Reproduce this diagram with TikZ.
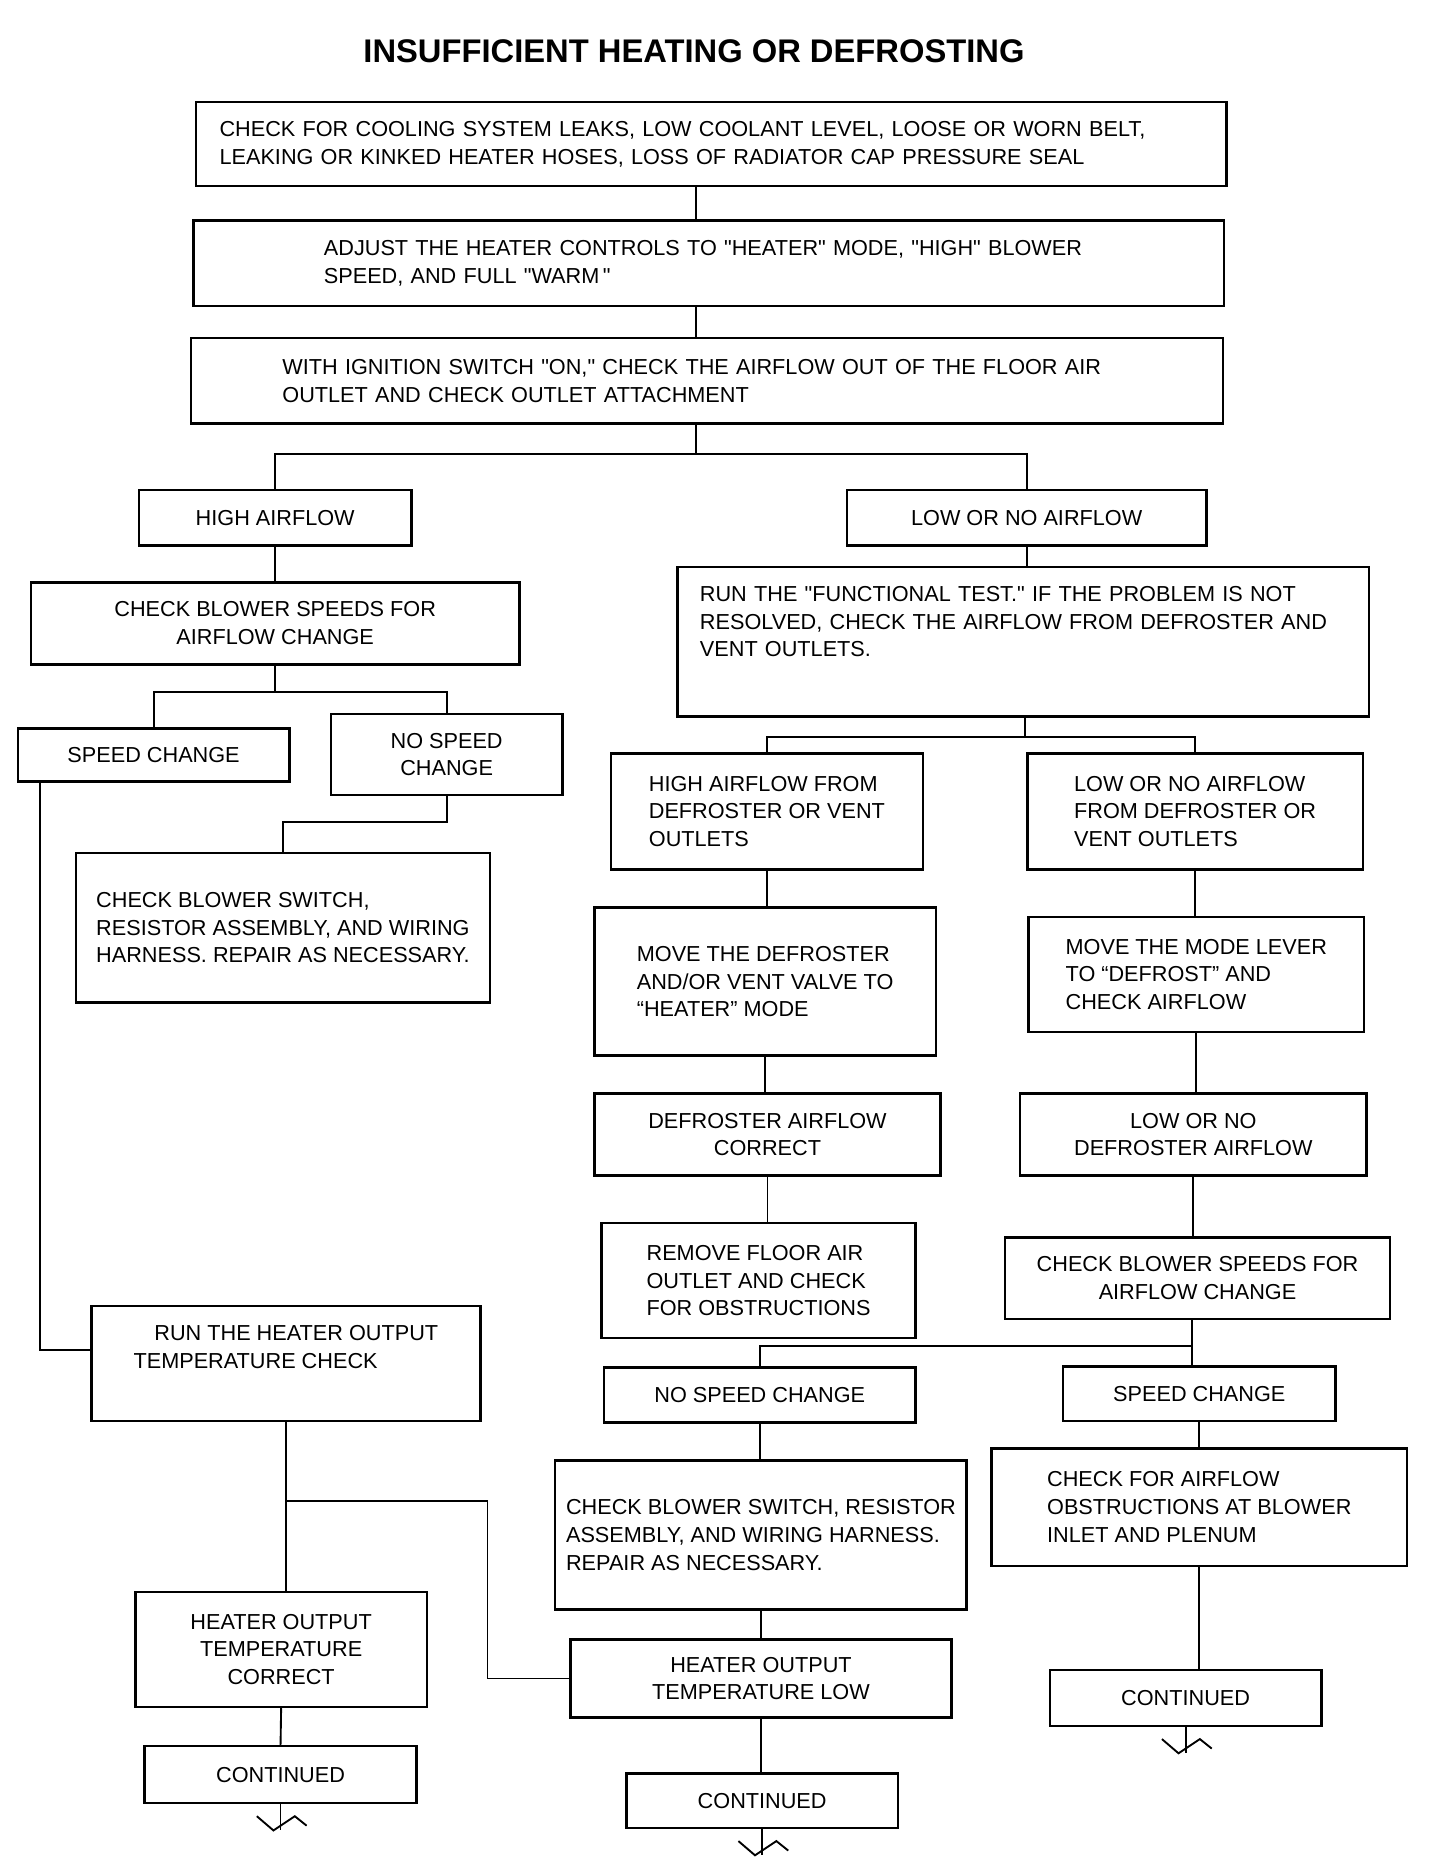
\documentclass[tikz,border=0pt]{standalone}
\usepackage{fontspec}
\setmainfont{Liberation Sans}
\usetikzlibrary{positioning, calc}

\tikzset{
  box/.style={draw, line width=1.2pt, inner sep=2pt, font=\fontsize{10.4}{13.3}\selectfont},
  cbox/.style 2 args={box, align=center, minimum width=#1, minimum height=#2},
  lbox/.style 2 args={box, align=left, minimum width=#1, minimum height=#2},
  link/.style={line width=0.9pt},
}

% straight double quote
\newcommand{\qq}{\textquotedbl}
% broken line under a CONTINUED box
\newcommand{\contbreak}[1]{%
  \draw[link] (#1.south) -- ++(0,22);
  \draw[link] ([shift={(-20,10)}]#1.south) -- ++(14,12) -- ++(18,-12) -- ++(10,8);}

\begin{document}
\begin{tikzpicture}[x=0.02cm, y=-0.02cm]
  \useasboundingbox (0,0) rectangle (1227,1568);
  % Titulo
  \node[font=\fontsize{15.7}{18}\selectfont\bfseries] (title) at (585,43) {INSUFFICIENT HEATING OR DEFROSTING};

  % Main column
  \node[box, align=left, text width=16.58cm, inner xsep=0.4cm, minimum height=1.42cm] (chkleaks) at (599.5,121.5)
    {CHECK FOR COOLING SYSTEM LEAKS, LOW COOLANT LEVEL, LOOSE OR WORN BELT,\\
     LEAKING OR KINKED HEATER HOSES, LOSS OF RADIATOR CAP PRESSURE SEAL};
  \node[box, align=left, text width=12.98cm, inner xsep=2.2cm, minimum height=1.44cm] (adjust) at (597.5,222)
    {ADJUST THE HEATER CONTROLS TO \qq HEATER\qq{} MODE, \qq HIGH\qq{} BLOWER\\
     SPEED, AND FULL \qq WARM\,\qq};
  \node[box, align=left, text width=14.32cm, inner xsep=1.54cm, minimum height=1.44cm] (ignition) at (596,321)
    {WITH IGNITION SWITCH \qq ON,\qq{} CHECK THE AIRFLOW OUT OF THE FLOOR AIR\\
     OUTLET AND CHECK OUTLET ATTACHMENT};
  \node[cbox={4.60cm}{0.94cm}] (hiair) at (232,436.5) {HIGH AIRFLOW};
  \node[cbox={6.06cm}{0.94cm}] (lowair) at (865.5,436.5) {LOW OR NO AIRFLOW};

  % High airflow side
  \node[cbox={8.24cm}{1.38cm}] (blowerL) at (232,525.5) {CHECK BLOWER SPEEDS FOR\\ AIRFLOW CHANGE};
  \node[cbox={4.58cm}{0.90cm}] (spdL) at (129.5,636.5) {SPEED CHANGE};
  \node[cbox={3.90cm}{1.36cm}] (nospdL) at (376.5,636) {NO SPEED\\ CHANGE};
  \node[lbox={6.98cm}{2.52cm}] (switchL) at (238.5,782)
    {CHECK BLOWER SWITCH,\\ RESISTOR ASSEMBLY, AND WIRING\\ HARNESS. REPAIR AS NECESSARY.};
  \node[lbox={6.56cm}{1.94cm}] (runheat) at (241,1149.5)
    {\hspace*{10pt}RUN THE HEATER OUTPUT\\ TEMPERATURE CHECK\\[2.6pt]\mbox{}};
  \node[cbox={4.92cm}{1.94cm}] (heatok) at (237,1390.5) {HEATER OUTPUT\\ TEMPERATURE\\ CORRECT};
  \node[cbox={4.58cm}{0.96cm}] (cont1) at (236.5,1496) {CONTINUED};

  % Low airflow side
  \node[box, align=left, text width=10.9cm, inner xsep=0.38cm, minimum height=2.52cm] (functest) at (862.5,541)
    {RUN THE \qq FUNCTIONAL TEST.\qq{} IF THE PROBLEM IS NOT\\
     RESOLVED, CHECK THE AIRFLOW FROM DEFROSTER AND\\
     VENT OUTLETS.\\[6pt]\mbox{}};
  \node[lbox={5.26cm}{1.96cm}] (hidef) at (646.5,684) {HIGH AIRFLOW FROM\\ DEFROSTER OR VENT\\ OUTLETS};
  \node[lbox={5.66cm}{1.96cm}] (lowdef) at (1007.5,684) {LOW OR NO AIRFLOW\\ FROM DEFROSTER OR\\ VENT OUTLETS};
  \node[lbox={5.76cm}{2.50cm}] (movedef) at (645,827.5) {MOVE THE DEFROSTER\\ AND/OR VENT VALVE TO\\ ``HEATER'' MODE};
  \node[lbox={5.66cm}{1.94cm}] (movemode) at (1008.5,821.5) {MOVE THE MODE LEVER\\ TO ``DEFROST'' AND\\ CHECK AIRFLOW};
  \node[cbox={5.84cm}{1.38cm}] (defok) at (647,956.5) {DEFROSTER AIRFLOW\\ CORRECT};
  \node[cbox={5.84cm}{1.38cm}] (lowdefair) at (1006,956.5) {LOW OR NO\\ DEFROSTER AIRFLOW};
  \node[lbox={5.30cm}{1.94cm}] (floor) at (639.5,1079.5) {REMOVE FLOOR AIR\\ OUTLET AND CHECK\\ FOR OBSTRUCTIONS};
  \node[cbox={6.50cm}{1.38cm}] (blowerR) at (1009.5,1077.5) {CHECK BLOWER SPEEDS FOR\\ AIRFLOW CHANGE};
  \node[cbox={5.26cm}{0.92cm}] (nospdR) at (640.5,1176) {NO SPEED CHANGE};
  \node[cbox={4.60cm}{0.92cm}] (spdR) at (1011,1175) {SPEED CHANGE};
  \node[lbox={6.94cm}{2.52cm}] (switchR) at (641.5,1294)
    {CHECK BLOWER SWITCH, RESISTOR\\ ASSEMBLY, AND WIRING HARNESS.\\ REPAIR AS NECESSARY.};
  \node[lbox={7.00cm}{1.98cm}] (obstr) at (1011,1270.5)
    {CHECK FOR AIRFLOW\\ OBSTRUCTIONS AT BLOWER\\ INLET AND PLENUM};
  \node[cbox={6.42cm}{1.32cm}] (heatlow) at (641.5,1415) {HEATER OUTPUT\\ TEMPERATURE LOW};
  \node[cbox={4.58cm}{0.92cm}] (cont2) at (642.5,1518) {CONTINUED};
  \node[cbox={4.58cm}{0.94cm}] (cont3) at (999.5,1431.5) {CONTINUED};

  % Trunk
  \coordinate (trunk) at (587,383);
  \draw[link] (chkleaks.south -| trunk) -- (adjust.north -| trunk);
  \draw[link] (adjust.south -| trunk) -- (ignition.north -| trunk);
  \draw[link] (ignition.south -| trunk) -- (trunk);
  \draw[link] (hiair.north) |- (trunk) -| (lowair.north);

  % Left branch
  \coordinate (splitL) at (232,583);
  \coordinate (jogL) at (0,693);
  \coordinate (elbow) at (411,1265);
  \draw[link] (hiair.south) -- (blowerL.north);
  \draw[link] (blowerL.south) -- (splitL);
  \draw[link] (spdL.north) |- (splitL) -| (nospdL.north);
  \draw[link] (nospdL.south) |- (switchL.north |- jogL) -- (switchL.north);
  \draw[link] ([xshift=0.4cm]spdL.south west) |- ([yshift=0.23cm]runheat.west);
  \draw[link] (runheat.south) -- (runheat.south |- heatok.north);
  \draw[link] (runheat.south |- elbow) -- (elbow) |- (heatlow.west);
  \draw[link] (heatok.south) -- (cont1.north);
  \contbreak{cont1}

  % Right branch
  \coordinate (splitR) at (864,621);
  \coordinate (splitS) at (1005,1135);
  \draw[link] (lowair.south) -- (lowair.south |- functest.north);
  \draw[link] (functest.south -| splitR) -- (splitR);
  \draw[link] (hidef.north) |- (splitR) -| (lowdef.north);
  \draw[link] (hidef.south) -- (hidef.south |- movedef.north);
  \draw[link] (movedef.south) -- (movedef.south |- defok.north);
  \draw[link] (defok.south) -- (defok.south |- floor.north);
  \draw[link] (lowdef.south) -- (lowdef.south |- movemode.north);
  \draw[link] (movemode.south) -- (movemode.south |- lowdefair.north);
  \draw[link] (lowdefair.south) -- (lowdefair.south |- blowerR.north);
  \draw[link] (blowerR.south -| splitS) -- (spdR.north -| splitS);
  \draw[link] (splitS) -| (nospdR.north);
  \draw[link] (nospdR.south) -- (nospdR.south |- switchR.north);
  \draw[link] (switchR.south) -- (switchR.south |- heatlow.north);
  \draw[link] (heatlow.south) -- (heatlow.south |- cont2.north);
  \contbreak{cont2}
  \draw[link] (spdR.south) -- (spdR.south |- obstr.north);
  \draw[link] (obstr.south) -- (obstr.south |- cont3.north);
  \contbreak{cont3}
\end{tikzpicture}
\end{document}
